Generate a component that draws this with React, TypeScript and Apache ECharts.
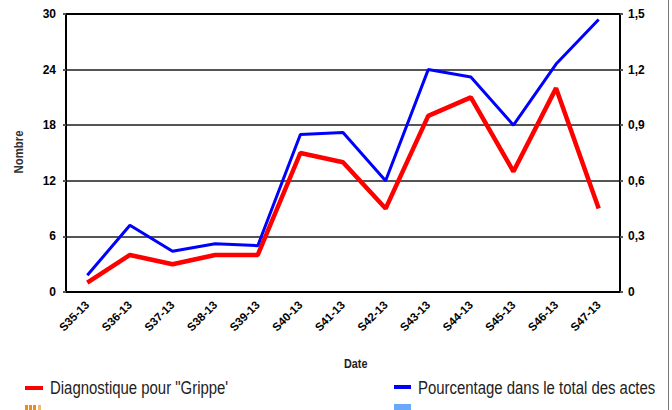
import React, { useEffect, useRef } from "react";
import * as echarts from "echarts";

const categories = ["S35-13", "S36-13", "S37-13", "S38-13", "S39-13", "S40-13", "S41-13", "S42-13", "S43-13", "S44-13", "S45-13", "S46-13", "S47-13"];
const grippeCounts = [1, 4, 3, 4, 4, 15, 14, 9, 19, 21, 13, 22, 9];
const grippePercent = [0.09, 0.36, 0.22, 0.26, 0.25, 0.85, 0.86, 0.6, 1.2, 1.16, 0.9, 1.23, 1.47];
const leftTicks = { min: 0, max: 30, interval: 6 };
const rightTicks = { min: 0, max: 1.5, interval: 0.3 };
const seriesNames = ['Diagnostique pour "Grippe\'', "Pourcentage dans le total des actes"];

const FONT = '"Liberation Sans", Arial, sans-serif';

export default function App() {
  const ref = useRef<HTMLDivElement>(null);
  useEffect(() => {
    document.body.style.margin = "0";
    const chart = echarts.init(ref.current!, null, { renderer: "svg" });
    chart.setOption({
      animation: false,
      backgroundColor: "#ffffff",
      grid: { left: 66, right: 52, top: 14, bottom: 118, show: true, borderColor: "#000", borderWidth: 2 },
      xAxis: [
        {
          type: "category",
          data: categories,
          position: "bottom",
          boundaryGap: true,
          axisLine: { lineStyle: { color: "#000", width: 2 } },
          axisTick: { alignWithLabel: true, length: 5, lineStyle: { color: "#000", width: 2 } },
          axisLabel: { rotate: 45, fontFamily: FONT, fontSize: 11.5, fontWeight: "bold", color: "#000", margin: 11, interval: 0 },
          splitLine: { show: false },
        },
        {
          type: "category",
          data: categories,
          position: "bottom",
          boundaryGap: true,
          axisLine: { show: false },
          axisTick: { inside: true, alignWithLabel: true, length: 5, lineStyle: { color: "#000", width: 2 } },
          axisLabel: { show: false },
          splitLine: { show: false },
        },
      ],
      yAxis: [
        {
          type: "value",
          ...leftTicks,
          position: "left",
          axisLine: { show: true, lineStyle: { color: "#000", width: 2 } },
          axisTick: { show: true, length: 3, lineStyle: { color: "#555", width: 2 } },
          axisLabel: { fontFamily: FONT, fontSize: 12, fontWeight: "bold", color: "#000", margin: 10 },
          splitLine: { show: true, lineStyle: { color: ["#555", "#555", "#555", "#555", "#555", "#000"], width: 2 } },
        },
        {
          type: "value",
          ...rightTicks,
          position: "right",
          axisLine: { show: true, lineStyle: { color: "#000", width: 2 } },
          axisTick: { show: true, length: 3, lineStyle: { color: "#555", width: 2 } },
          axisLabel: {
            fontFamily: FONT, fontSize: 12, fontWeight: "bold", color: "#000", margin: 8,
            formatter: (v: number) => (v === 0 ? "0" : v.toFixed(1).replace(".", ",")),
          },
          splitLine: { show: false },
        },
      ],
      series: [
        {
          name: seriesNames[0],
          type: "line",
          data: grippeCounts,
          yAxisIndex: 0,
          xAxisIndex: 0,
          symbol: "none",
          lineStyle: { color: "#ff0000", width: 4.5 },
          z: 3,
        },
        {
          name: seriesNames[1],
          type: "line",
          data: grippePercent,
          yAxisIndex: 1,
          xAxisIndex: 0,
          symbol: "none",
          lineStyle: { color: "#0000ff", width: 3 },
          z: 4,
        },
      ],
      graphic: [
        { type: "text", x: 344, y: 364, scaleX: 0.9, style: { text: "Date", font: `bold 12px ${FONT}`, fill: "#222", verticalAlign: "middle" } },
        { type: "text", x: 18, y: 152, rotation: Math.PI / 2, scaleX: 0.95, style: { text: "Nombre", font: `bold 12px ${FONT}`, fill: "#333", align: "center", verticalAlign: "middle" } },
        { type: "rect", shape: { x: 25, y: 386, width: 18, height: 4 }, style: { fill: "#ff0000" } },
        { type: "text", x: 50, y: 388, scaleX: 0.83, scaleY: 1.05, style: { text: seriesNames[0], font: `18px ${FONT}`, fill: "#222", verticalAlign: "middle" } },
        { type: "rect", shape: { x: 394, y: 385, width: 17, height: 4 }, style: { fill: "#0000ff" } },
        { type: "text", x: 418, y: 388, scaleX: 0.83, scaleY: 1.05, style: { text: seriesNames[1], font: `18px ${FONT}`, fill: "#222", verticalAlign: "middle" } },
        { type: "rect", shape: { x: 25, y: 405, width: 3, height: 5 }, style: { fill: "#f08a1c" } },
        { type: "rect", shape: { x: 29, y: 405, width: 3, height: 5 }, style: { fill: "#f08a1c" } },
        { type: "rect", shape: { x: 33, y: 405, width: 3, height: 5 }, style: { fill: "#f08a1c" } },
        { type: "rect", shape: { x: 38, y: 405, width: 3, height: 5 }, style: { fill: "#f6b878" } },
        { type: "rect", shape: { x: 394, y: 404, width: 17, height: 6 }, style: { fill: "#6aa8f8" } },
        { type: "rect", shape: { x: 656, y: 375, width: 12, height: 30 }, style: { fill: "#ffffff" }, z: 10 },
        { type: "line", shape: { x1: 668.5, y1: 0, x2: 668.5, y2: 410 }, style: { stroke: "#777", lineWidth: 1 }, z: 11 },
      ],
    });
    return () => chart.dispose();
  }, []);
  return <div ref={ref} style={{ position: "fixed", left: 0, top: 0, width: 672, height: 410 }} />;
}
